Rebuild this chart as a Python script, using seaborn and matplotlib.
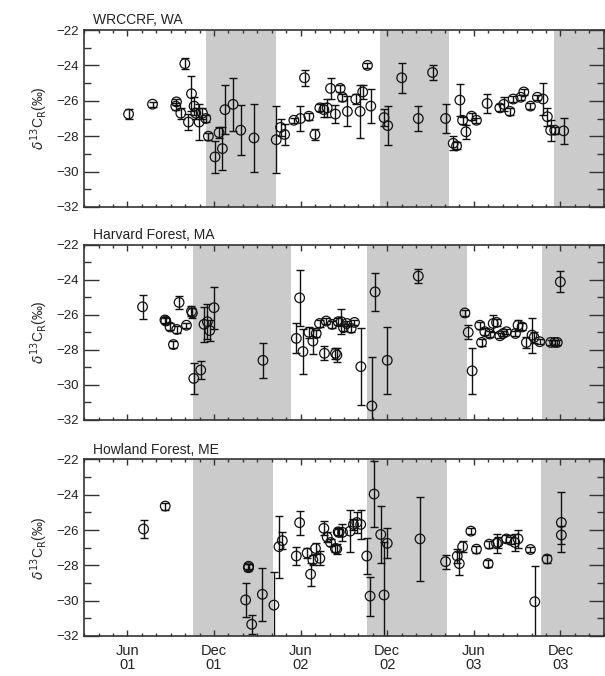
import numpy as np
import pandas as pd
import seaborn as sns
import matplotlib.pyplot as plt
from matplotlib.ticker import MultipleLocator, FixedLocator

# x = months since Jan 2001 (decimal), y = delta13C_R (permil), e = error
site_names = ["WRCCRF, WA", "Harvard Forest, MA", "Howland Forest, ME"]

wa_month = [5.08, 6.74, 8.35, 8.40, 8.70, 8.98, 9.23, 9.44, 9.62, 9.74, 9.97, 10.2, 10.43,
            10.61, 11.07, 11.35, 11.58, 11.76, 12.32, 12.85, 13.77, 15.31, 15.61, 15.89,
            16.53, 16.99, 17.27, 17.57, 17.99, 18.33, 18.61, 18.84, 19.07, 19.41, 19.74,
            19.9, 20.24, 20.82, 21.12, 21.30, 21.63, 21.86, 22.78, 23.03, 24.0, 25.15,
            26.14, 27.04, 27.57, 27.8, 28.03, 28.22, 28.45, 28.84, 29.18, 29.92, 30.8,
            31.07, 31.49, 31.72, 32.25, 32.46, 32.92, 33.4, 33.79, 34.09, 34.32, 34.6, 35.22]
wa_d13c = [-26.75, -26.19, -26.3, -26.06, -26.7, -23.9, -27.2, -25.6, -26.3, -26.7, -27.2,
           -26.7, -27.0, -28.0, -29.17, -27.8, -28.7, -26.5, -26.2, -27.66, -28.1, -28.2,
           -27.5, -27.9, -27.1, -27.0, -24.7, -26.87, -27.9, -26.4, -26.5, -26.4, -25.3,
           -26.75, -25.3, -25.8, -26.6, -25.9, -26.6, -25.5, -24.0, -26.3, -26.95, -27.4,
           -24.7, -27.0, -24.4, -27.0, -28.4, -28.55, -25.96, -27.1, -27.75, -26.87, -27.1,
           -26.15, -26.4, -26.2, -26.6, -25.9, -25.8, -25.5, -26.3, -25.8, -25.9, -26.9,
           -27.66, -27.66, -27.7]
wa_err = [0.3, 0.15, 0.2, 0.15, 0.3, 0.3, 0.45, 1.0, 0.5, 0.3, 1.0, 0.3, 0.2, 0.2, 0.9, 0.3,
          1.2, 1.4, 1.5, 1.4, 1.9, 1.9, 0.5, 0.6, 0.15, 0.7, 0.45, 0.2, 0.3, 0.2, 0.4, 0.5,
          0.6, 0.5, 0.2, 0.2, 0.85, 0.3, 1.5, 0.4, 0.15, 0.95, 0.5, 1.1, 0.85, 0.7, 0.4, 0.8,
          0.4, 0.2, 0.9, 0.2, 0.4, 0.2, 0.15, 0.55, 0.2, 0.4, 0.2, 0.15, 0.15, 0.15, 0.15,
          0.15, 0.9, 0.5, 0.6, 0.2, 0.75]

ma_month = [6.05, 7.60, 7.66, 7.96, 8.19, 8.42, 8.58, 9.09, 9.44, 9.50, 9.6, 10.08, 10.31,
            10.54, 10.7, 11.0, 14.39, 16.7, 16.93, 17.16, 17.57, 17.85, 18.08, 18.31, 18.65,
            18.77, 19.18, 19.41, 19.51, 19.6, 19.81, 19.97, 20.2, 20.5, 20.73, 21.17, 21.93,
            22.16, 23.0, 25.15, 28.38, 28.61, 28.88, 29.41, 29.53, 29.76, 30.1, 30.34, 30.57,
            30.8, 31.03, 31.26, 31.88, 32.06, 32.34, 32.64, 33.03, 33.17, 33.56, 34.32, 34.6,
            34.78, 34.99]
ma_d13c = [-25.55, -26.3, -26.36, -26.7, -27.7, -26.84, -25.3, -26.6, -25.8, -25.9, -29.63,
           -29.15, -26.55, -26.4, -26.9, -25.6, -28.6, -27.35, -25.04, -28.1, -27.0, -27.5,
           -27.07, -26.5, -28.2, -26.36, -26.55, -28.2, -28.3, -26.4, -26.4, -26.74, -26.5,
           -26.78, -26.44, -28.96, -31.2, -24.7, -28.6, -23.8, -25.9, -27.0, -29.2, -26.6,
           -27.58, -26.97, -27.1, -26.5, -26.44, -27.2, -27.07, -26.97, -27.07, -26.6, -26.7,
           -27.58, -27.16, -27.3, -27.54, -27.58, -27.58, -27.58, -24.13]
ma_err = [0.7, 0.15, 0.15, 0.2, 0.2, 0.2, 0.37, 0.15, 0.3, 0.3, 0.9, 0.5, 1.0, 1.0, 0.6, 1.2,
          1.0, 0.85, 1.6, 1.3, 0.3, 0.75, 0.2, 0.2, 0.4, 0.15, 0.2, 0.3, 0.4, 0.2, 0.7, 0.2,
          0.15, 0.2, 0.15, 2.2, 2.8, 1.1, 1.9, 0.4, 0.15, 0.4, 1.3, 0.2, 0.2, 0.2, 0.15, 0.5,
          0.2, 0.15, 0.15, 0.15, 0.15, 0.3, 0.2, 0.3, 1.0, 0.3, 0.15, 0.15, 0.15, 0.15, 0.6]

me_month = [6.12, 7.62, 13.19, 13.38, 13.40, 13.61, 14.35, 15.15, 15.5, 15.73, 16.7, 16.93,
            17.45, 17.69, 17.85, 18.03, 18.33, 18.61, 18.84, 19.07, 19.41, 19.5, 19.6, 19.67,
            19.9, 20.43, 20.66, 20.89, 21.16, 21.58, 21.81, 22.09, 22.55, 22.78, 23.0, 25.27,
            27.04, 27.85, 27.99, 28.22, 28.79, 29.18, 29.99, 30.06, 30.57, 30.68, 31.26, 31.56,
            31.83, 32.06, 32.92, 33.22, 34.07, 35.06, 35.06]
me_d13c = [-25.94, -24.64, -29.96, -28.13, -28.05, -31.34, -29.64, -30.25, -26.94, -26.6,
           -27.47, -25.58, -27.3, -28.5, -27.7, -27.04, -27.6, -25.9, -26.4, -26.7, -27.04,
           -27.07, -26.1, -26.13, -26.13, -26.06, -25.68, -25.57, -25.68, -27.47, -29.74,
           -23.96, -26.25, -29.68, -26.75, -26.5, -27.79, -27.47, -27.9, -26.94, -26.06,
           -27.08, -27.9, -26.8, -26.75, -26.7, -26.5, -26.57, -26.7, -26.5, -27.1, -30.06,
           -27.64, -26.28, -25.57]
me_err = [0.5, 0.2, 0.95, 0.2, 0.15, 0.55, 1.5, 1.85, 1.75, 0.5, 0.5, 0.68, 0.3, 0.65, 0.3,
          0.3, 0.4, 0.4, 0.3, 0.2, 0.2, 0.3, 0.2, 0.2, 0.5, 1.2, 0.3, 0.6, 0.8, 1.0, 1.1, 1.85,
          1.6, 3.0, 0.85, 2.4, 0.4, 0.4, 0.65, 0.3, 0.15, 0.2, 0.2, 0.2, 0.55, 0.3, 0.2, 0.2,
          0.5, 0.5, 0.15, 2.0, 0.2, 0.5, 1.7]

# dormant-season shading (start, end) in months since Jan 2001
wa_shade = [(10.43, 15.27), (22.5, 27.3), (34.55, 40)]
ma_shade = [(9.55, 16.3), (21.6, 28.5), (33.75, 40)]
me_shade = [(9.55, 15.1), (21.6, 27.15), (33.65, 40)]

tick_months = [5, 11, 17, 23, 29, 35]
tick_labels = ["Jun\n01", "Dec\n01", "Jun\n02", "Dec\n02", "Jun\n03", "Dec\n03"]

sns.set_style("ticks")
plt.rcParams['font.family'] = ['Liberation Sans', 'DejaVu Sans']
plt.rcParams['axes.unicode_minus'] = True

fig = plt.figure(figsize=(6.05, 6.76), dpi=100)
boxes = [(0.139, 0.6938, 0.859, 0.2618),
         (0.139, 0.3787, 0.859, 0.2596),
         (0.139, 0.0592, 0.859, 0.2611)]

panels = [(wa_month, wa_d13c, wa_err, wa_shade),
          (ma_month, ma_d13c, ma_err, ma_shade),
          (me_month, me_d13c, me_err, me_shade)]

for i, (box, (m, v, e, shade)) in enumerate(zip(boxes, panels)):
    ax = fig.add_axes(box)
    df = pd.DataFrame({"month": m, "d13c": v, "err": e})
    for s0, s1 in shade:
        ax.axvspan(s0, s1, color="#cbcbcb", lw=0, zorder=0)
    ax.errorbar(df["month"], df["d13c"], yerr=df["err"], fmt="none", ecolor="#111111",
                elinewidth=1.0, capsize=3, capthick=1.0, zorder=2)
    sns.scatterplot(data=df, x="month", y="d13c", ax=ax, marker="o", s=48,
                    facecolor="none", edgecolor="#111111", linewidth=0.9, zorder=3)
    ax.set_xlim(2, 38)
    ax.set_ylim(-32, -22)
    ax.xaxis.set_major_locator(FixedLocator(tick_months))
    ax.xaxis.set_minor_locator(MultipleLocator(1))
    ax.yaxis.set_major_locator(MultipleLocator(2))
    ax.yaxis.set_minor_locator(MultipleLocator(1))
    ax.tick_params(axis="both", which="both", direction="in", top=True, right=True,
                   color="#333333", width=1.0, labelcolor="#222222")
    ax.tick_params(axis="y", which="major", length=11, labelsize=9.5, pad=4)
    ax.tick_params(axis="y", which="minor", length=5)
    ax.tick_params(axis="x", which="major", length=4.5, labelsize=10.5, pad=6)
    ax.tick_params(axis="x", which="minor", length=2.5)
    if i == 2:
        ax.set_xticklabels(tick_labels, linespacing=1.0)
    else:
        ax.set_xticklabels([])
    ax.set_xlabel("")
    ax.set_ylabel(r"$\delta^{13}$C$_{\rm R}$(‰)", fontsize=10, labelpad=4)
    for sp in ax.spines.values():
        sp.set_linewidth(1.2)
        sp.set_color("#333333")
    ax.text(0.018, 1.015, site_names[i], transform=ax.transAxes, ha="left", va="bottom",
            fontsize=10, color="#222222")

fig.savefig("out.png", dpi=100)
